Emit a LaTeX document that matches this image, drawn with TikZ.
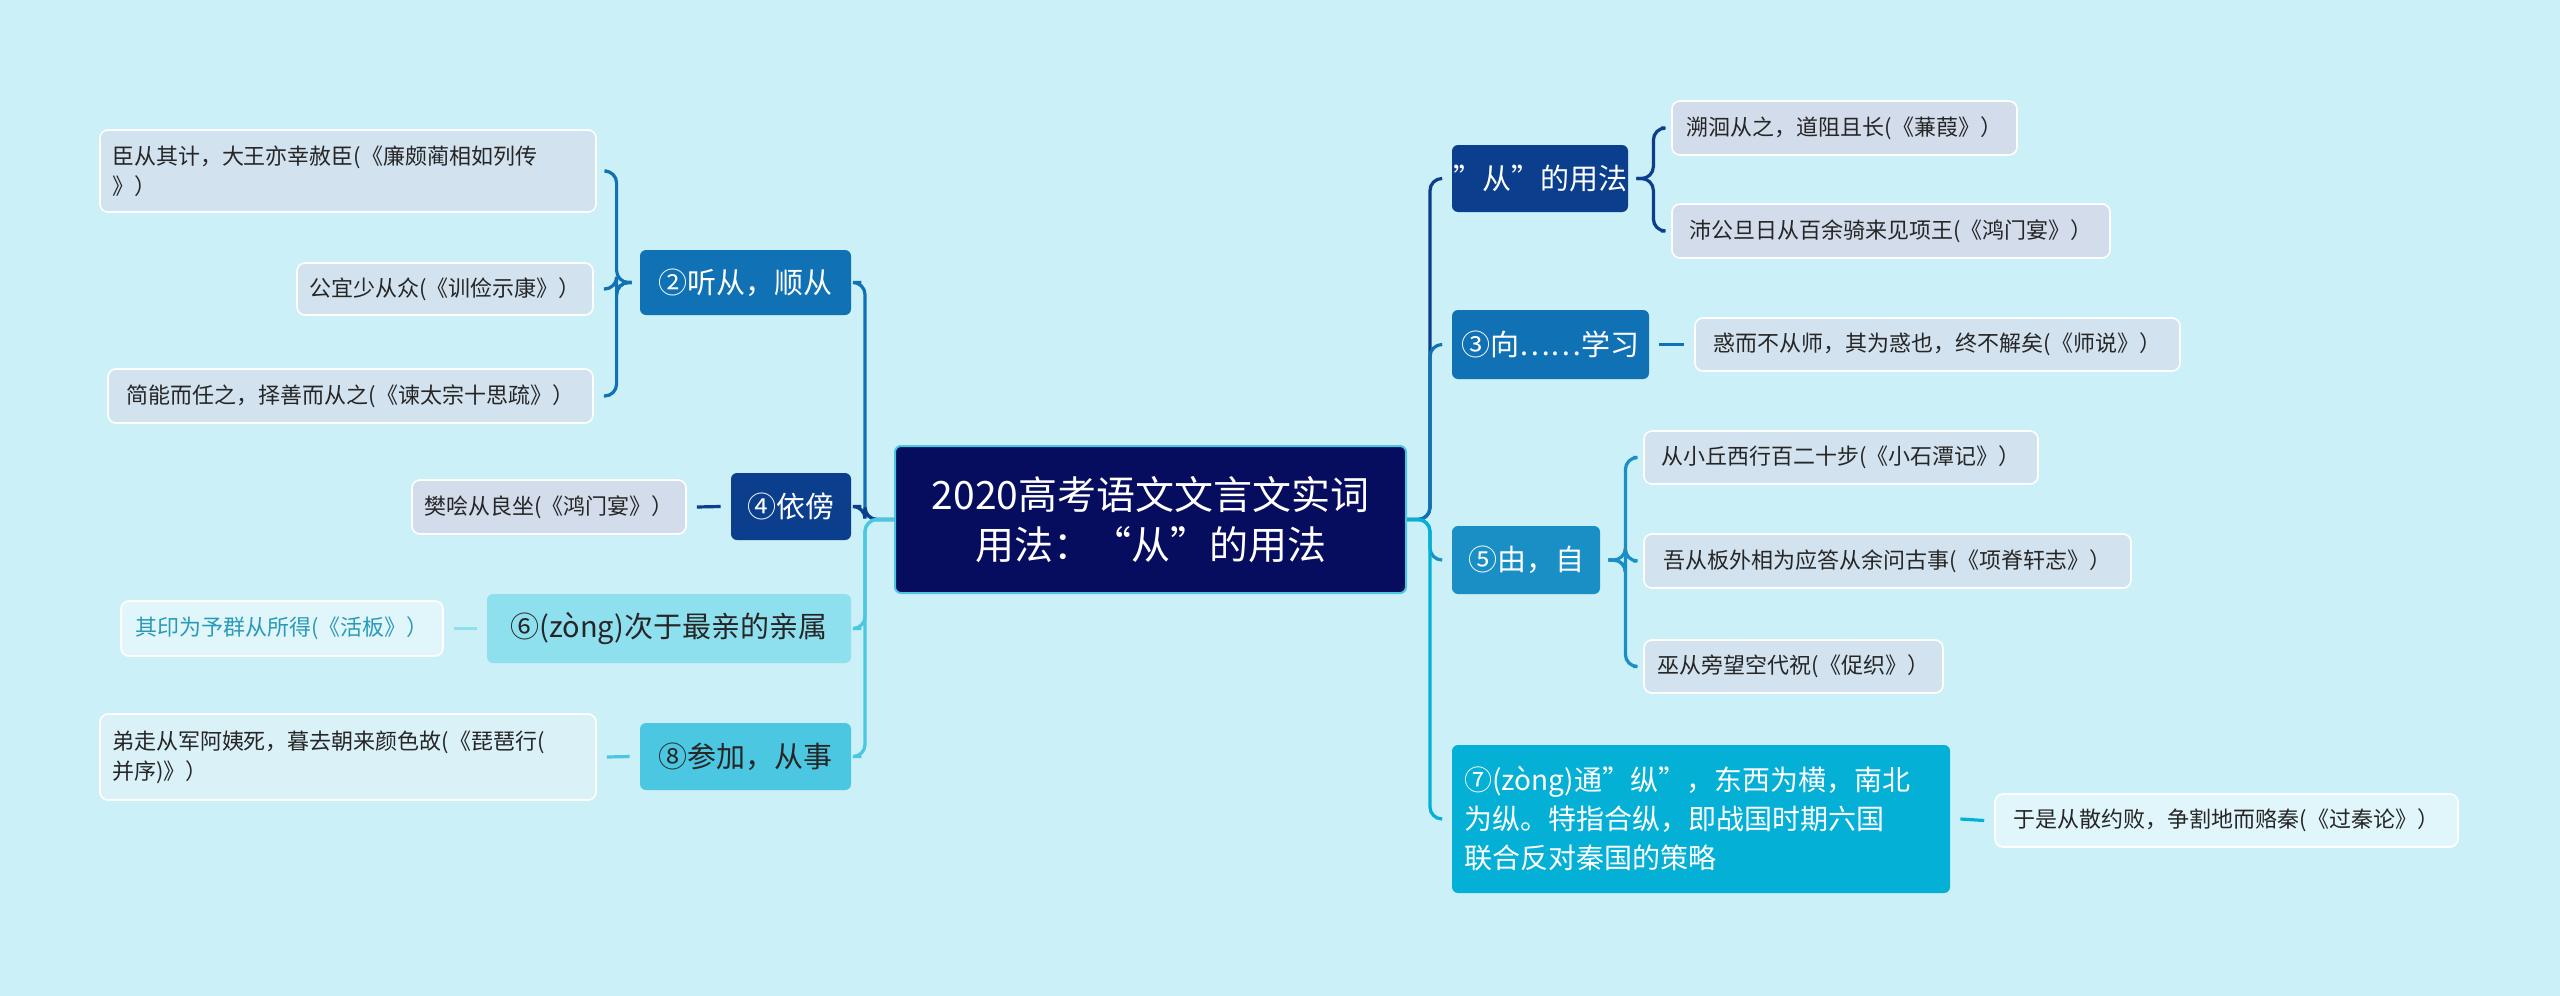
\documentclass[tikz,border=0pt]{standalone}
\usepackage{fontspec}
\setmainfont{Noto Sans CJK SC}
\usetikzlibrary{calc}
\newcommand{\dq}{{\char34}}
\definecolor{bg}{HTML}{CBF0F8}
\definecolor{cnavy}{HTML}{060C5E}
\definecolor{cdark}{HTML}{0B3F8E}
\definecolor{cmid}{HTML}{1071B5}
\definecolor{cblue}{HTML}{1A8FC6}
\definecolor{ccyan}{HTML}{04B0D5}
\definecolor{clight}{HTML}{8FE0EF}
\definecolor{csky}{HTML}{4CC7E2}
\definecolor{leafA}{HTML}{D2E2EE}
\definecolor{leafB}{HTML}{D2DCEB}
\definecolor{leafC}{HTML}{E1F6FB}
\definecolor{leafD}{HTML}{DAF1F8}
\definecolor{ltext}{HTML}{2A9AB8}
\tikzset{
  box/.style={rounded corners=3pt, inner sep=0pt, font=\fontsize{14.5}{18}\selectfont, text=white},
  leaf/.style={rounded corners=4pt, draw=white, line width=0.8pt, inner sep=0pt, font=\fontsize{11}{15}\selectfont, text=black!85, fill=leafA},
  con/.style={line width=1.6pt, rounded corners=6pt},
}
\begin{document}
\begin{tikzpicture}[x=0.5pt,y=-0.5pt]
\fill[bg] (0,0) rectangle (2560,996);
\useasboundingbox (0,0) rectangle (2560,996);
% center
\node[box, fill=cnavy, draw=csky, line width=1pt, minimum width=255.5pt, minimum height=73.5pt, align=center, font=\fontsize{19.5}{25}\selectfont] (c) at (1150.5,519.5) {2020高考语文文言文实词\\用法：“从”的用法};
% left level 1
\node[box, fill=cmid, minimum width=105.5pt, minimum height=32.5pt] (n2) at (745.5,282.5) {②听从，顺从};
\node[box, fill=cdark, minimum width=60pt, minimum height=33.5pt] (n4) at (791,506.5) {④依傍};
\node[box, fill=clight, text=black!85, minimum width=182pt, minimum height=34.5pt] (n6) at (669,628.5) {⑥(zòng)次于最亲的亲属};
\node[box, fill=csky, text=black!85, minimum width=105.5pt, minimum height=33.5pt] (n8) at (745.5,756.5) {⑧参加，从事};
% left leaves
\node[leaf, minimum width=248pt, minimum height=41pt, text width=236pt, align=left] (l1) at (348,171) {臣从其计，大王亦幸赦臣(《廉颇蔺相如列传\\》）};
\node[leaf, minimum width=148pt, minimum height=26pt] (l2) at (445,289) {公宜少从众(《训俭示康》）};
\node[leaf, minimum width=242.5pt, minimum height=27pt] (l3) at (350.5,396) {简能而任之，择善而从之(《谏太宗十思疏》）};
\node[leaf, fill=leafB, minimum width=137pt, minimum height=27pt] (l4) at (549,507) {樊哙从良坐(《鸿门宴》）};
\node[leaf, fill=leafC, text=ltext, minimum width=161pt, minimum height=27.5pt] (l5) at (282,628.5) {其印为予群从所得(《活板》）};
\node[leaf, fill=leafD, minimum width=248pt, minimum height=43pt, text width=236pt, align=left] (l6) at (348,757) {弟走从军阿姨死，暮去朝来颜色故(《琵琶行(\\并序)》）};
% right level 1
\node[box, fill=cdark, minimum width=88pt, minimum height=33.5pt] (a) at (1540,178.5) {\dq 从\dq 的用法};
\node[box, fill=cmid, minimum width=98.5pt, minimum height=34.5pt] (b) at (1550.5,344.5) {③向……学习};
\node[box, fill=cblue, minimum width=74pt, minimum height=34pt] (d) at (1526,560) {⑤由，自};
\node[box, fill=ccyan, minimum width=249pt, minimum height=74pt, text width=237pt, align=left, font=\fontsize{14}{19.5}\selectfont] (e) at (1701,819) {⑦(zòng)通\dq 纵\dq ，东西为横，南北\\为纵。特指合纵，即战国时期六国\\联合反对秦国的策略};
% right leaves
\node[leaf, fill=leafB, minimum width=172.5pt, minimum height=27pt] (r1) at (1844.5,128) {溯洄从之，道阻且长(《蒹葭》）};
\node[leaf, fill=leafB, minimum width=219pt, minimum height=27pt] (r2) at (1891,231) {沛公旦日从百余骑来见项王(《鸿门宴》）};
\node[leaf, minimum width=242.5pt, minimum height=26.5pt] (r3) at (1937.5,344.5) {惑而不从师，其为惑也，终不解矣(《师说》）};
\node[leaf, minimum width=197pt, minimum height=26.5pt] (r4) at (1841,457.5) {从小丘西行百二十步(《小石潭记》）};
\node[leaf, minimum width=243.5pt, minimum height=27pt] (r5) at (1887.5,561) {吾从板外相为应答从余问古事(《项脊轩志》）};
\node[leaf, minimum width=149.5pt, minimum height=26.5pt] (r6) at (1793.5,666.5) {巫从旁望空代祝(《促织》）};
\node[leaf, fill=leafC, minimum width=231.5pt, minimum height=26.5pt] (r7) at (2226.5,820.5) {于是从散约败，争割地而赂秦(《过秦论》）};
% center to left
\draw[con, cmid] (c.west) -- ++(-29,0) |- ($(n2.east)+(10,0)$);
\draw[con, cdark] (c.west) -- ++(-29,0) |- ($(n4.east)+(10,0)$);
\draw[con, csky] (c.west) -- ++(-29,0) |- ($(n6.east)+(10,0)$);
\draw[con, csky] (c.west) -- ++(-29,0) |- ($(n8.east)+(10,0)$);
% center to right
\draw[con, cdark] (c.east) -- ++(23,0) |- ($(a.west)+(-10,0)$);
\draw[con, cmid] (c.east) -- ++(23,0) |- ($(b.west)+(-10,0)$);
\draw[con, cblue] (c.east) -- ++(23,0) |- ($(d.west)+(-10,0)$);
\draw[con, ccyan] (c.east) -- ++(23,0) |- ($(e.west)+(-10,0)$);
% left leaves
\foreach \l in {l1,l2,l3}
  \draw[con, cmid] ($(n2.west)+(-8,0)$) -- ($(n2.west)+(-23,0)$) |- ($(\l.east)+(10,0)$);
\draw[con, cdark] ($(n4.west)+(-10,0)$) -- ($(l4.east)+(10,0)$);
\draw[con, clight] ($(n6.west)+(-10,0)$) -- ($(l5.east)+(10,0)$);
\draw[con, csky] ($(n8.west)+(-10,0)$) -- ($(l6.east)+(10,0)$);
% right leaves
\foreach \r in {r1,r2}
  \draw[con, cdark] ($(a.east)+(8,0)$) -- ($(a.east)+(25,0)$) |- ($(\r.west)+(-10,0)$);
\draw[con, cmid] ($(b.east)+(10,0)$) -- ($(r3.west)+(-10,0)$);
\foreach \r in {r4,r5,r6}
  \draw[con, cblue] ($(d.east)+(8,0)$) -- ($(d.east)+(25,0)$) |- ($(\r.west)+(-10,0)$);
\draw[con, ccyan] ($(e.east)+(10,0)$) -- ($(r7.west)+(-10,0)$);
\end{tikzpicture}
\end{document}
